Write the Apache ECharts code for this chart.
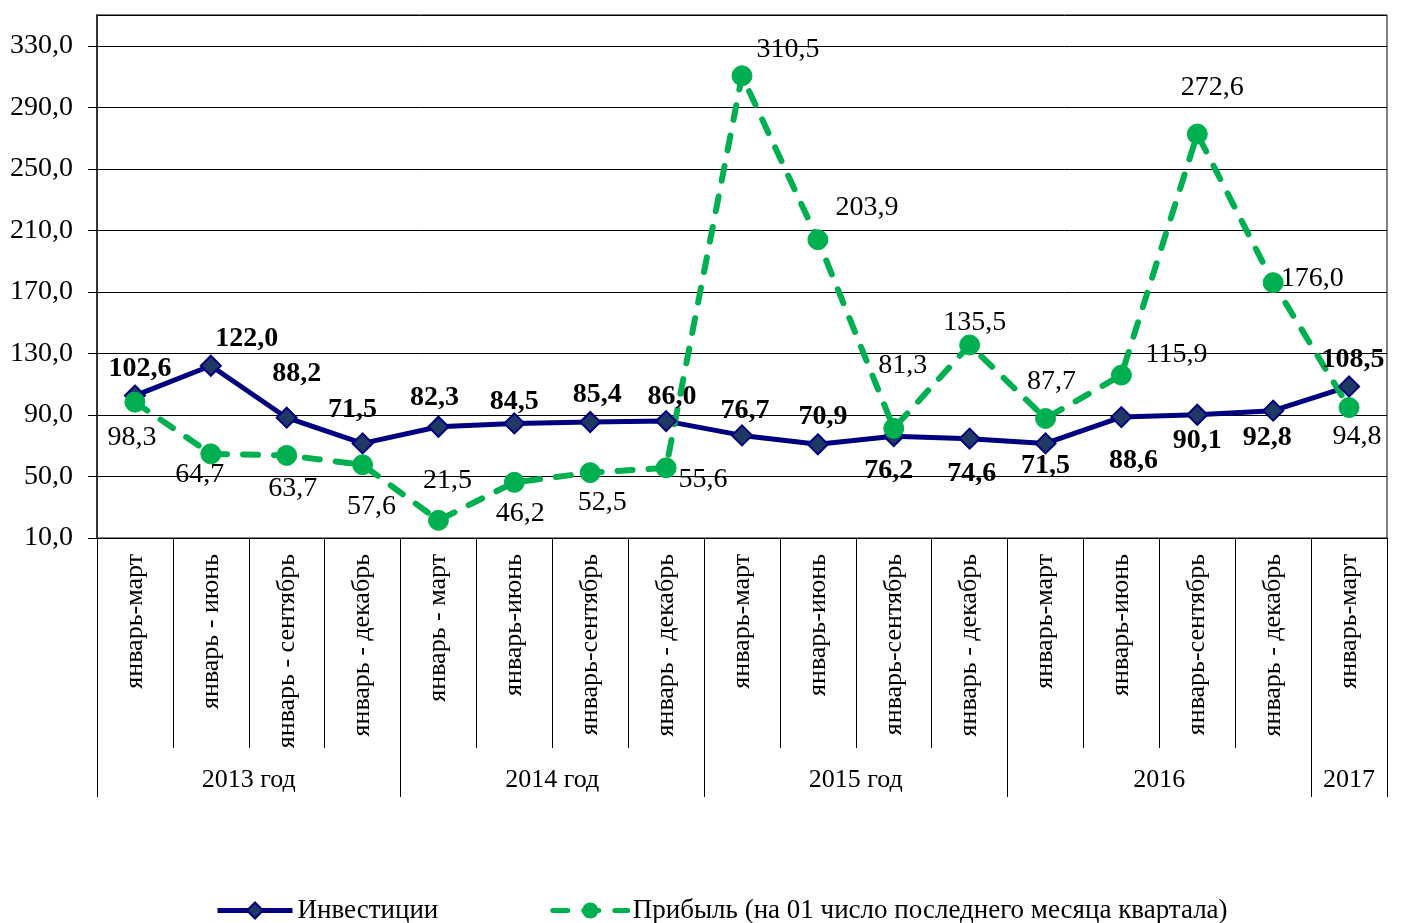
<!DOCTYPE html>
<html>
<head>
<meta charset="utf-8">
<script src="https://cdn.jsdelivr.net/npm/echarts@6/dist/echarts.min.js"></script>
<style>
  html, body { margin: 0; padding: 0; background: #fff; }
  #chart { width: 1402px; height: 923px; }
</style>
</head>
<body>
<div id="chart"></div>
<script>
// кварталы
const quarters = [
  "январь-март", "январь - июнь", "январь - сентябрь", "январь - декабрь",
  "январь - март", "январь-июнь", "январь-сентябрь", "январь - декабрь",
  "январь-март", "январь-июнь", "январь-сентябрь", "январь - декабрь",
  "январь-март", "январь-июнь", "январь-сентябрь", "январь - декабрь",
  "январь-март"
];
// годы и сколько кварталов в каждом
const years = ["2013 год", "2014 год", "2015 год", "2016", "2017"];
const yearSpans = [4, 4, 4, 4, 1];

const investments = [102.6, 122.0, 88.2, 71.5, 82.3, 84.5, 85.4, 86.0, 76.7, 70.9, 76.2, 74.6, 71.5, 88.6, 90.1, 92.8, 108.5];
const profit = [98.3, 64.7, 63.7, 57.6, 21.5, 46.2, 52.5, 55.6, 310.5, 203.9, 81.3, 135.5, 87.7, 115.9, 272.6, 176.0, 94.8];

// сдвиги подписей относительно точки
const invOffsets = [[5, -27], [36, -27], [10, -44], [-10, -34], [-4, -29], [0, -22], [7, -27], [6, -24],
  [3, -25], [5, -28], [-5, 35], [2, 35], [0, 22], [12, 44], [0, 26], [-6, 27], [4, -27]];
const profitOffsets = [[-3, 35], [-11, 21], [6, 33], [9, 42], [9, -40], [6, 31], [12, 30], [37, 12],
  [46, -26], [49, -32], [9, -63], [5, -22], [6, -37], [55, -20], [15, -46], [39, -4], [8, 29]];

const fmt = (v) => v.toFixed(1).replace(".", ",");
const FONT = "Liberation Serif";

// ось годов строится по половинкам кварталов
const yearData = [];
for (let i = 0; i <= quarters.length * 2; i++) yearData.push("");
const yearTicks = [0];
const yearLabelIdx = [];
let pos = 0;
years.forEach((y, k) => {
  const mid = pos + yearSpans[k];
  yearData[mid] = y;
  yearLabelIdx.push(mid);
  pos += yearSpans[k] * 2;
  yearTicks.push(pos);
});

function labeled(values, offsets, bold) {
  return values.map((v, i) => ({
    value: v,
    label: {
      show: true,
      position: "inside",
      offset: offsets[i],
      formatter: () => fmt(v),
      fontFamily: FONT,
      fontSize: 28,
      fontWeight: bold ? "bold" : "normal",
      color: "#000",
    },
  }));
}

const myChart = echarts.init(document.getElementById("chart"));
const option = {
  animation: false,
  grid: {
    left: 97, right: 15, top: 15, bottom: 385,
    show: true, borderColor: "#000", borderWidth: 1,
  },
  legend: {
    top: 892,
    left: 210,
    itemWidth: 75,
    itemHeight: 20,
    itemGap: 112,
    textStyle: { fontFamily: FONT, fontSize: 27, color: "#000" },
    lineStyle: { width: 5 },
    data: ["Инвестиции", "Прибыль (на 01 число последнего месяца квартала)"],
  },
  xAxis: [
    {
      type: "category",
      data: quarters,
      boundaryGap: true,
      axisLine: { lineStyle: { color: "#000", width: 1 } },
      axisTick: { show: true, interval: 0, length: 210, lineStyle: { color: "#000" } },
      axisLabel: {
        interval: 0,
        rotate: 90,
        margin: 16,
        fontFamily: FONT,
        fontSize: 26,
        color: "#000",
      },
    },
    {
      type: "category",
      data: yearData,
      boundaryGap: false,
      position: "bottom",
      axisLine: { show: false },
      axisTick: {
        show: true,
        length: 259,
        interval: (idx) => yearTicks.includes(idx),
        lineStyle: { color: "#000" },
      },
      axisLabel: {
        interval: (idx) => yearLabelIdx.includes(idx),
        margin: 229,
        fontFamily: FONT,
        fontSize: 26,
        color: "#000",
      },
    },
  ],
  yAxis: {
    type: "value",
    min: 10,
    max: 350,
    interval: 40,
    axisLine: { show: true, lineStyle: { color: "#333", width: 2 } },
    axisTick: { show: true, length: 9, lineStyle: { color: "#000" } },
    axisLabel: {
      showMaxLabel: false,
      margin: 24,
      formatter: fmt,
      fontFamily: FONT,
      fontSize: 28,
      color: "#000",
    },
    splitLine: { lineStyle: { color: "#000", width: 1 } },
  },
  series: [
    {
      name: "Инвестиции",
      type: "line",
      xAxisIndex: 0,
      data: labeled(investments, invOffsets, true),
      symbol: "diamond",
      symbolSize: 20,
      lineStyle: { color: "#000080", width: 5 },
      itemStyle: { color: "#1F3864", borderColor: "#000080", borderWidth: 2 },
    },
    {
      name: "Прибыль (на 01 число последнего месяца квартала)",
      type: "line",
      xAxisIndex: 0,
      data: labeled(profit, profitOffsets, false),
      symbol: "circle",
      symbolSize: 20,
      lineStyle: { color: "#00B050", width: 6, type: [15, 16], cap: "round" },
      itemStyle: { color: "#00B050", borderColor: "#00B050" },
    },
  ],
};
myChart.setOption(option);
</script>
</body>
</html>
